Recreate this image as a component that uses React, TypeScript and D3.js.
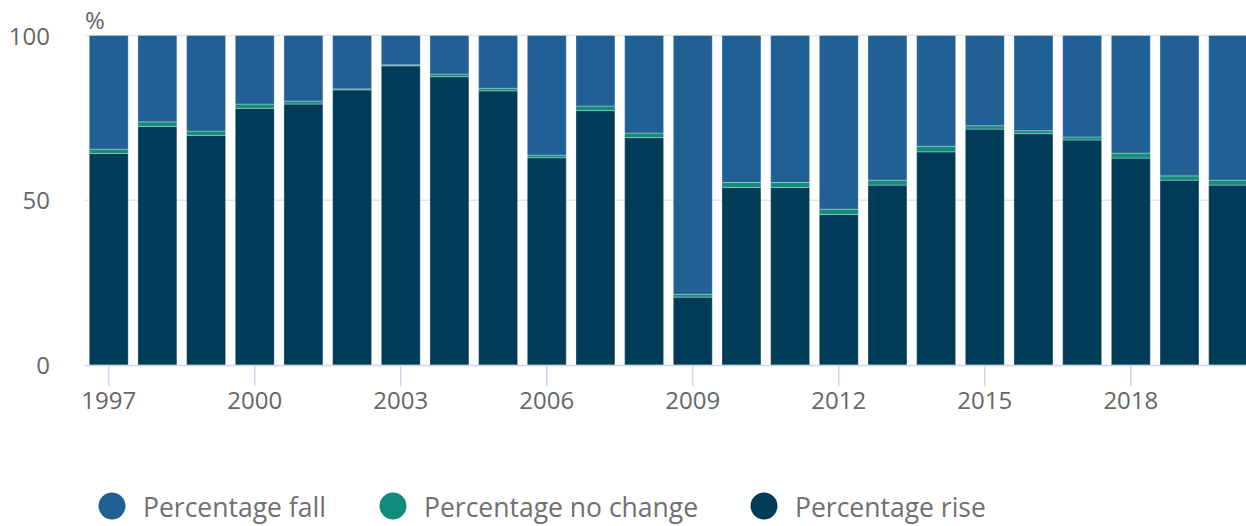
import React, { useEffect, useRef } from "react";
import * as d3 from "d3";

const years = [
  1997, 1998, 1999, 2000, 2001, 2002, 2003, 2004, 2005, 2006, 2007, 2008,
  2009, 2010, 2011, 2012, 2013, 2014, 2015, 2016, 2017, 2018, 2019, 2020,
];
const rise = [
  64.2, 72.4, 69.7, 77.9, 79.2, 83.5, 90.8, 87.5, 83.2, 62.9, 77.2, 69.0,
  20.6, 53.9, 53.9, 45.7, 54.6, 64.7, 71.6, 70.2, 68.3, 62.8, 56.1, 54.6,
];
const noChange = [
  1.3, 1.4, 1.3, 1.3, 0.9, 0.3, 0.3, 0.8, 0.8, 0.8, 1.4, 1.4,
  0.9, 1.5, 1.5, 1.6, 1.5, 1.7, 1.0, 0.9, 0.9, 1.5, 1.3, 1.5,
];
const fall = [
  34.5, 26.2, 29.0, 20.8, 19.9, 16.2, 8.9, 11.7, 16.0, 36.3, 21.4, 29.6,
  78.5, 44.6, 44.6, 52.7, 43.9, 33.6, 27.4, 28.9, 30.8, 35.7, 42.6, 43.9,
];
const xTicks = [1997, 2000, 2003, 2006, 2009, 2012, 2015, 2018];
const yTicks = [0, 50, 100];

const series = [
  { key: "rise", label: "Percentage rise", color: "#003c57" },
  { key: "noChange", label: "Percentage no change", color: "#118c7b" },
  { key: "fall", label: "Percentage fall", color: "#206095" },
];
const legendOrder = ["fall", "noChange", "rise"];

const App: React.FC = () => {
  const svgRef = useRef<SVGSVGElement | null>(null);
  const width = 1246;
  const height = 526;

  useEffect(() => {
    const svg = d3.select(svgRef.current);
    svg.selectAll("*").remove();

    const rows = years.map((y, i) => ({
      year: String(y),
      rise: rise[i],
      noChange: noChange[i],
      fall: fall[i],
    }));

    const x = d3
      .scaleBand()
      .domain(rows.map((d) => d.year))
      .range([84.4, 1252.5])
      .paddingInner(0.2)
      .paddingOuter(0.1);

    const y = d3.scaleLinear().domain([0, 100]).range([365, 35.5]);

    const font = "'Open Sans', sans-serif";

    // grid lines
    svg
      .append("g")
      .selectAll("line")
      .data(yTicks.filter((t) => t > 0))
      .enter()
      .append("line")
      .attr("x1", 85)
      .attr("x2", width)
      .attr("y1", (d) => y(d))
      .attr("y2", (d) => y(d))
      .attr("stroke", "#e6e6e6")
      .attr("stroke-width", 1.5);

    // y labels
    svg
      .append("g")
      .selectAll("text")
      .data(yTicks)
      .enter()
      .append("text")
      .attr("x", 50)
      .attr("y", (d) => y(d) + 9)
      .attr("text-anchor", "end")
      .attr("font-family", font)
      .attr("font-size", 24)
      .attr("fill", "#666666")
      .text((d) => d);

    svg
      .append("text")
      .attr("x", 85)
      .attr("y", 29)
      .attr("font-family", font)
      .attr("font-size", 24)
      .attr("fill", "#666666")
      .text("%");

    // stacked bars
    const stack = d3.stack<any>().keys(series.map((s) => s.key));
    const stacked = stack(rows);

    svg
      .append("g")
      .selectAll("g")
      .data(stacked)
      .enter()
      .append("g")
      .attr("fill", (d) => series.find((s) => s.key === d.key)!.color)
      .selectAll("rect")
      .data((d) => d)
      .enter()
      .append("rect")
      .attr("x", (d) => x(d.data.year) as number)
      .attr("y", (d) => y(d[1]))
      .attr("width", x.bandwidth())
      .attr("height", (d) => y(d[0]) - y(d[1]))
      .attr("stroke", "#ffffff")
      .attr("stroke-opacity", 0.3)
      .attr("stroke-width", 1);

    // x axis line
    svg
      .append("line")
      .attr("x1", 85)
      .attr("x2", width)
      .attr("y1", 365.5)
      .attr("y2", 365.5)
      .attr("stroke", "#ccd6eb")
      .attr("stroke-width", 1.5);

    const tickG = svg
      .append("g")
      .selectAll("g")
      .data(xTicks)
      .enter()
      .append("g")
      .attr(
        "transform",
        (d) => `translate(${(x(String(d)) as number) + x.bandwidth() / 2},0)`
      );
    tickG
      .append("line")
      .attr("y1", 365)
      .attr("y2", 386)
      .attr("stroke", "#ccd6eb")
      .attr("stroke-width", 1.5);
    tickG
      .append("text")
      .attr("y", 409)
      .attr("text-anchor", "middle")
      .attr("font-family", font)
      .attr("font-size", 24)
      .attr("fill", "#666666")
      .text((d) => d);

    // legend
    const legendX = [112, 393, 764];
    const legend = svg
      .append("g")
      .selectAll("g")
      .data(legendOrder)
      .enter()
      .append("g")
      .attr("transform", (_, i) => `translate(${legendX[i]},506)`);
    legend
      .append("circle")
      .attr("r", 13.5)
      .attr("fill", (d) => series.find((s) => s.key === d)!.color);
    legend
      .append("text")
      .attr("x", 31)
      .attr("y", 11)
      .attr("font-family", font)
      .attr("font-size", 26.5)
      .attr("fill", "#707070")
      .text((d) => series.find((s) => s.key === d)!.label);
  }, []);

  return (
    <svg
      ref={svgRef}
      width={width}
      height={height}
      style={{ position: "absolute", left: 0, top: 0, background: "#fff" }}
    ></svg>
  );
};

export default App;
